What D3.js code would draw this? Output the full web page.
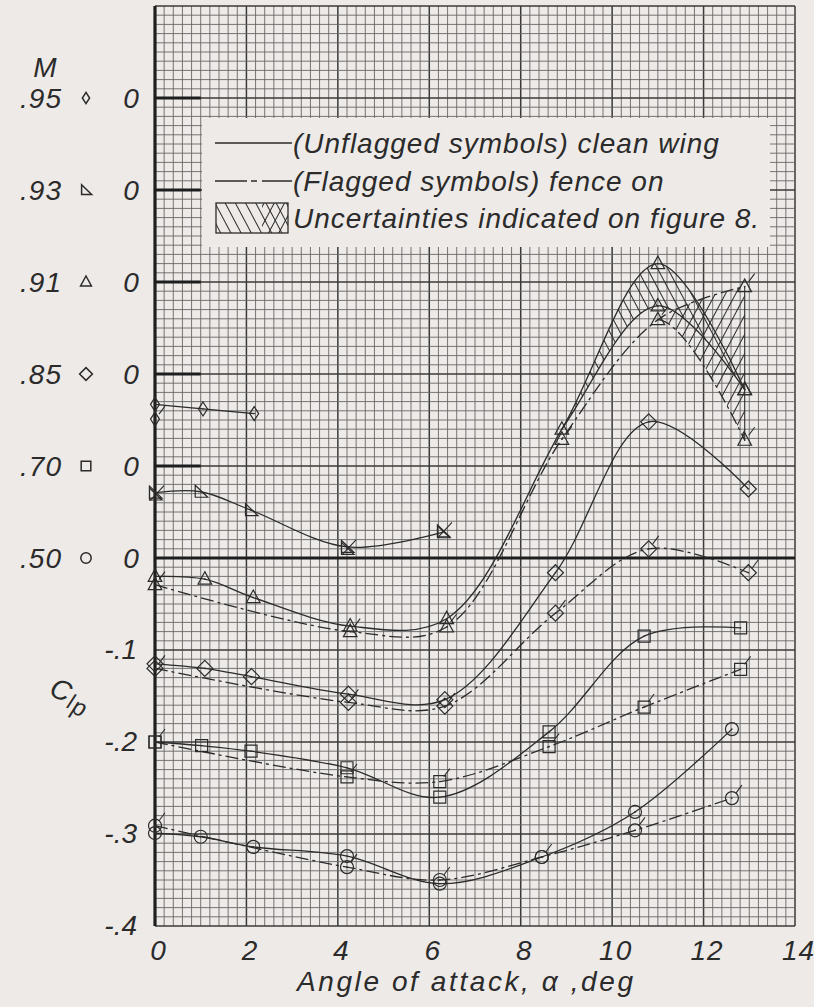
<!DOCTYPE html>
<html>
<head>
<meta charset="utf-8">
<script src="https://cdn.jsdelivr.net/npm/d3@7"></script>
<style>
  html, body { margin: 0; padding: 0; background: #eeeae8; }
  svg { display: block; }
  text { font-family: "Liberation Sans", Arial, sans-serif; font-style: italic; fill: #2b2b2b; }
</style>
</head>
<body>
<svg id="chart" width="814" height="1007"></svg>
<script>
// ---- Mach number key (each Mach curve is shifted up by its own zero) ----
const machLabels  = [".50", ".70", ".85", ".91", ".93", ".95"];
const machOffsets = [0, 0.1, 0.2, 0.3, 0.4, 0.5];
const machSymbols = ["circle", "square", "diamond", "triangle", "rightTriangle", "slimDiamond"];

// ---- Axis ticks ----
const alphaTicks = [0, 2, 4, 6, 8, 10, 12, 14];
const clpTicks   = [-0.1, -0.2, -0.3, -0.4];

// ---- M = 0.50 ----
const alphaClean50 = [0, 1.0, 2.15, 4.2, 6.23, 8.46, 10.5, 12.62];
const clpClean50   = [-0.299, -0.303, -0.314, -0.324, -0.354, -0.325, -0.276, -0.186];
const alphaFence50 = [0, 4.2, 6.23, 8.46, 10.5, 12.62];
const clpFence50   = [-0.291, -0.336, -0.350, -0.325, -0.296, -0.261];

// ---- M = 0.70 ----
const alphaClean70 = [0, 1.02, 2.1, 4.2, 6.23, 8.62, 10.7, 12.81];
const clpClean70   = [-0.300, -0.304, -0.310, -0.328, -0.360, -0.289, -0.185, -0.176];
const alphaFence70 = [0, 4.2, 6.23, 8.62, 10.7, 12.81];
const clpFence70   = [-0.300, -0.338, -0.343, -0.305, -0.262, -0.221];

// ---- M = 0.85 ----
const alphaClean85 = [0, 1.09, 2.11, 4.23, 6.34, 8.76, 10.8, 12.98];
const clpClean85   = [-0.315, -0.320, -0.329, -0.348, -0.354, -0.216, -0.052, -0.125];
const alphaFence85 = [0, 4.23, 6.34, 8.76, 10.8, 12.98];
const clpFence85   = [-0.320, -0.357, -0.361, -0.260, -0.190, -0.216];

// ---- M = 0.91 (two readings near the peak give the uncertainty bands) ----
const alphaClean91    = [0, 1.09, 2.15, 4.27, 6.38, 8.9, 11.0, 12.9];
const clpClean91      = [-0.320, -0.323, -0.343, -0.374, -0.366, -0.160, 0.020, -0.117];
const alphaCleanAlt91 = [6.38, 8.9, 11.0, 12.9];
const clpCleanAlt91   = [-0.366, -0.160, -0.026, -0.117];
const alphaFence91    = [0, 4.27, 6.38, 8.9, 11.0, 12.9];
const clpFence91      = [-0.329, -0.380, -0.375, -0.171, -0.041, -0.005];
const alphaFenceAlt91 = [8.9, 11.0, 12.9];
const clpFenceAlt91   = [-0.171, -0.041, -0.172];
const cleanBandFrom91 = 8.9;
const fenceBandFrom91 = 11.0;
const bandTo91        = 12.9;

// ---- M = 0.93 ----
const alphaClean93 = [0, 1.0, 2.1, 4.2, 6.3];
const clpClean93   = [-0.329, -0.328, -0.348, -0.388, -0.372];
const alphaFence93 = [0, 4.2, 6.3];
const clpFence93   = [-0.331, -0.390, -0.371];

// ---- M = 0.95 ----
const alphaClean95 = [0, 1.05, 2.17];
const clpClean95   = [-0.333, -0.338, -0.343];
const alphaFence95 = [0];
const clpFence95   = [-0.349];

// ---- Legend text ----
const legendTexts = ["(Unflagged symbols) clean wing", "(Flagged symbols) fence on", "Uncertainties indicated on figure 8."];

const zip = (a, c) => a.map((v, i) => ({ a: v, c: c[i] }));

const seriesList = [
  { off: machOffsets[0], kind: machSymbols[0], clean: zip(alphaClean50, clpClean50), fence: zip(alphaFence50, clpFence50), fenceLine: true },
  { off: machOffsets[1], kind: machSymbols[1], clean: zip(alphaClean70, clpClean70), fence: zip(alphaFence70, clpFence70), fenceLine: true },
  { off: machOffsets[2], kind: machSymbols[2], clean: zip(alphaClean85, clpClean85), fence: zip(alphaFence85, clpFence85), fenceLine: true },
  { off: machOffsets[3], kind: machSymbols[3], clean: zip(alphaClean91, clpClean91), fence: zip(alphaFence91, clpFence91), fenceLine: true },
  { off: machOffsets[4], kind: machSymbols[4], clean: zip(alphaClean93, clpClean93), fence: zip(alphaFence93, clpFence93), fenceLine: false },
  { off: machOffsets[5], kind: machSymbols[5], clean: zip(alphaClean95, clpClean95), fence: zip(alphaFence95, clpFence95), fenceLine: false }
];

const ink = "#2b2b2b";
const bg = "#eeeae8";
const dashDot = "13,4,3,4";

const svg = d3.select("#chart");
const x = d3.scaleLinear().domain([0, 14]).range([155, 795]);
const y = d3.scaleLinear().domain([-0.4, 0.6]).range([926, 6]);

const defs = svg.append("defs");
function hatch(id, angle, gap) {
  const p = defs.append("pattern").attr("id", id)
    .attr("patternUnits", "userSpaceOnUse")
    .attr("width", gap).attr("height", gap)
    .attr("patternTransform", `rotate(${angle})`);
  p.append("line").attr("x1", gap / 2).attr("x2", gap / 2).attr("y1", -1).attr("y2", gap + 1)
    .attr("stroke", ink).attr("stroke-width", 1);
}
hatch("hatchBack", -28, 9);  // "\" lines
hatch("hatchFwd", 28, 9);    // "/" lines

// ---- graph paper ----
const grid = svg.append("g");
d3.range(0, 71).forEach(i => {
  const xv = x(i * 0.2), major = i % 10 === 0;
  grid.append("line").attr("x1", xv).attr("x2", xv).attr("y1", y(0.6)).attr("y2", y(-0.4))
    .attr("stroke", major ? "#3a3a3a" : "#666").attr("stroke-width", major ? 1.5 : 0.9);
});
d3.range(0, 101).forEach(i => {
  const yv = y(-0.4 + i * 0.01), major = i % 10 === 0;
  grid.append("line").attr("x1", x(0)).attr("x2", x(14)).attr("y1", yv).attr("y2", yv)
    .attr("stroke", major ? "#3a3a3a" : "#666").attr("stroke-width", major ? 1.5 : 0.9);
});

// left axis and the zero marks of each Mach curve
svg.append("line").attr("x1", x(0)).attr("x2", x(0)).attr("y1", y(0.6)).attr("y2", y(-0.4))
  .attr("stroke", "#1e1e1e").attr("stroke-width", 3.2);
machOffsets.forEach(o => {
  svg.append("line").attr("x1", x(0)).attr("x2", o === 0 ? x(14) : x(1))
    .attr("y1", y(o)).attr("y2", y(o)).attr("stroke", "#1e1e1e").attr("stroke-width", 3);
});

// ---- legend ----
const lg = svg.append("g");
lg.append("rect").attr("x", 202).attr("y", 118).attr("width", 568).attr("height", 129).attr("fill", bg);
lg.append("line").attr("x1", 215).attr("x2", 292).attr("y1", 143).attr("y2", 143)
  .attr("stroke", ink).attr("stroke-width", 1.5);
lg.append("line").attr("x1", 215).attr("x2", 292).attr("y1", 181).attr("y2", 181)
  .attr("stroke", ink).attr("stroke-width", 1.5).attr("stroke-dasharray", "32,4,6,5,40");
defs.append("clipPath").attr("id", "lgBox").append("rect")
  .attr("x", 216).attr("y", 203).attr("width", 72).attr("height", 30);
defs.append("clipPath").attr("id", "lgBoxRight").append("rect")
  .attr("x", 262).attr("y", 203).attr("width", 26).attr("height", 30);
lg.append("rect").attr("x", 216).attr("y", 203).attr("width", 72).attr("height", 30)
  .attr("fill", "url(#hatchBack)").attr("clip-path", "url(#lgBox)");
lg.append("rect").attr("x", 262).attr("y", 203).attr("width", 26).attr("height", 30)
  .attr("fill", "url(#hatchFwd)").attr("clip-path", "url(#lgBoxRight)");
lg.append("rect").attr("x", 216).attr("y", 203).attr("width", 72).attr("height", 30)
  .attr("fill", "none").attr("stroke", ink).attr("stroke-width", 1.3);
legendTexts.forEach((t, i) => {
  lg.append("text").attr("x", 293).attr("y", [153, 191, 228][i])
    .attr("font-size", 28).attr("letter-spacing", 1).text(t);
});

// ---- curves ----
const smooth = d3.line().x(d => d[0]).y(d => d[1]).curve(d3.curveCatmullRom.alpha(0.5));
const straight = d3.line().x(d => d[0]).y(d => d[1]);
const toPx = (pts, off) => pts.map(d => [x(d.a), y(d.c + off)]);

// sample a smooth curve through pts and keep the part between two x positions
function sampleCurve(pts, x0, x1) {
  const p = svg.append("path").attr("d", smooth(pts)).attr("fill", "none");
  const node = p.node(), L = node.getTotalLength(), out = [];
  for (let s = 0; s <= L; s += 0.75) {
    const q = node.getPointAtLength(s);
    if (q.x >= x0 - 0.01 && q.x <= x1 + 0.01) out.push([q.x, q.y]);
  }
  const last = node.getPointAtLength(L);
  if (last.x <= x1 + 0.01) out.push([last.x, last.y]);
  p.remove();
  return out;
}

const curves = svg.append("g").attr("fill", "none").attr("stroke", ink).attr("stroke-width", 1.3);

// uncertainty bands for M = 0.91
const off91 = machOffsets[3];
const clean91Px = toPx(zip(alphaClean91, clpClean91), off91);
const cleanAlt91Px = toPx(zip(alphaCleanAlt91, clpCleanAlt91), off91);
const fence91Px = toPx(zip(alphaFence91, clpFence91), off91);
const fenceAlt91Px = toPx(zip(alphaFenceAlt91, clpFenceAlt91), off91);

const cleanUpper = sampleCurve(clean91Px, x(cleanBandFrom91), x(bandTo91));
const cleanLower = sampleCurve(cleanAlt91Px, x(cleanBandFrom91), x(bandTo91));
svg.insert("path", "g:last-of-type")
  .attr("d", straight(cleanUpper.concat(cleanLower.slice().reverse())) + "Z")
  .attr("fill", "url(#hatchBack)").attr("stroke", "none");

const fenceUpper = sampleCurve(fence91Px, x(fenceBandFrom91), x(bandTo91));
const fenceLower = sampleCurve(fenceAlt91Px, x(fenceBandFrom91), x(bandTo91));
svg.insert("path", "g:last-of-type")
  .attr("d", straight(fenceUpper.concat(fenceLower.slice().reverse())) + "Z")
  .attr("fill", "url(#hatchFwd)").attr("stroke", "none");
curves.append("line")
  .attr("x1", x(bandTo91)).attr("x2", x(bandTo91))
  .attr("y1", y(clpFence91[clpFence91.length - 1] + off91))
  .attr("y2", y(clpFenceAlt91[clpFenceAlt91.length - 1] + off91))
  .attr("stroke-width", 1.1);

curves.append("path").attr("d", straight(sampleCurve(cleanAlt91Px, x(cleanBandFrom91), x(14))));
curves.append("path").attr("d", straight(sampleCurve(fenceAlt91Px, x(fenceBandFrom91), x(14))))
  .attr("stroke-dasharray", dashDot);

seriesList.forEach(s => {
  curves.append("path").attr("d", smooth(toPx(s.clean, s.off)));
  if (s.fenceLine) {
    curves.append("path").attr("d", smooth(toPx(s.fence, s.off))).attr("stroke-dasharray", dashDot);
  }
});

// ---- symbols ----
function symbolPath(kind, k = 1) {
  const p = d3.path();
  if (kind === "circle") {
    p.arc(0, 0, 6.5 * k, 0, 2 * Math.PI);
  } else if (kind === "square") {
    const h = 6 * k; p.rect(-h, -h, 2 * h, 2 * h);
  } else if (kind === "diamond") {
    const h = 8 * k; p.moveTo(0, -h); p.lineTo(h, 0); p.lineTo(0, h); p.lineTo(-h, 0); p.closePath();
  } else if (kind === "slimDiamond") {
    p.moveTo(0, -7 * k); p.lineTo(4.5 * k, 0); p.lineTo(0, 7 * k); p.lineTo(-4.5 * k, 0); p.closePath();
  } else if (kind === "triangle") {
    p.moveTo(0, -7.5 * k); p.lineTo(6.8 * k, 5 * k); p.lineTo(-6.8 * k, 5 * k); p.closePath();
  } else if (kind === "rightTriangle") {
    p.moveTo(-5.5 * k, -6.5 * k); p.lineTo(-5.5 * k, 5.5 * k); p.lineTo(7 * k, 5.5 * k); p.closePath();
  }
  return p.toString();
}

const marks = svg.append("g").attr("stroke", ink).attr("stroke-width", 1.2);
function drawSymbol(kind, cx, cy, flagged) {
  marks.append("path").attr("d", symbolPath(kind)).attr("transform", `translate(${cx},${cy})`)
    .attr("fill", "none");
  marks.append("circle").attr("cx", cx).attr("cy", cy).attr("r", 0.8).attr("fill", ink).attr("stroke", "none");
  if (flagged) {
    const d = kind === "rightTriangle"
      ? `M${cx - 5},${cy + 6}L${cx + 9},${cy - 9}`
      : `M${cx + 4},${cy - 5}L${cx + 10},${cy - 13}`;
    marks.append("path").attr("d", d).attr("fill", "none").attr("stroke-width", 1.1);
  }
}
seriesList.forEach(s => {
  toPx(s.clean, s.off).forEach(p => drawSymbol(s.kind, p[0], p[1], false));
  toPx(s.fence, s.off).forEach(p => drawSymbol(s.kind, p[0], p[1], true));
});
cleanAlt91Px.filter((p, i) => alphaCleanAlt91[i] > cleanBandFrom91)
  .forEach(p => drawSymbol("triangle", p[0], p[1], false));
fenceAlt91Px.filter((p, i) => alphaFenceAlt91[i] > fenceBandFrom91)
  .forEach(p => drawSymbol("triangle", p[0], p[1], true));

// ---- Mach key at the left ----
const key = svg.append("g");
key.append("text").attr("x", 45).attr("y", 77).attr("text-anchor", "middle").attr("font-size", 28).text("M");
machLabels.forEach((lab, i) => {
  const yz = y(machOffsets[i]);
  key.append("text").attr("x", 62).attr("y", yz + 10).attr("text-anchor", "end")
    .attr("font-size", 28).attr("letter-spacing", 1).text(lab);
  key.append("path").attr("d", symbolPath(machSymbols[i], 0.8)).attr("transform", `translate(86,${yz})`)
    .attr("fill", "none").attr("stroke", ink).attr("stroke-width", 1.5);
  key.append("text").attr("x", 131).attr("y", yz + 10).attr("text-anchor", "middle")
    .attr("font-size", 28).text("0");
});

// ---- axes ----
const xAxis = svg.append("g").attr("transform", `translate(0,${y(-0.4)})`)
  .call(d3.axisBottom(x).tickValues(alphaTicks).tickSize(0).tickPadding(0).tickFormat(d => String(d)));
xAxis.select(".domain").remove();
xAxis.attr("font-family", null).attr("font-size", null);
xAxis.selectAll("text").attr("y", 34).attr("dy", null).attr("dx", 3).attr("font-size", 28).attr("letter-spacing", 1)
  .attr("fill", ink);

const yAxis = svg.append("g").attr("transform", "translate(137,0)")
  .call(d3.axisLeft(y).tickValues(clpTicks).tickSize(0).tickPadding(0)
    .tickFormat(d => "-" + String(Math.abs(d)).replace(/^0/, "")));
yAxis.select(".domain").remove();
yAxis.attr("font-family", null).attr("font-size", null);
yAxis.selectAll("text").attr("font-size", 28).attr("dy", "0.32em").attr("fill", ink);

svg.append("text").attr("x", 297).attr("y", 991).attr("font-size", 28)
  .attr("textLength", 336).attr("lengthAdjust", "spacing").text("Angle of attack, α ,deg");

// C sub l sub p
const clp = svg.append("g").attr("transform", "translate(48,695) rotate(22)");
const clpText = clp.append("text").attr("font-size", 28);
clpText.append("tspan").text("C");
clpText.append("tspan").attr("font-size", 22).attr("dx", 1).attr("dy", 5).text("l");
clpText.append("tspan").attr("font-size", 24).attr("dx", 1).attr("dy", 3).text("p");
</script>
</body>
</html>
